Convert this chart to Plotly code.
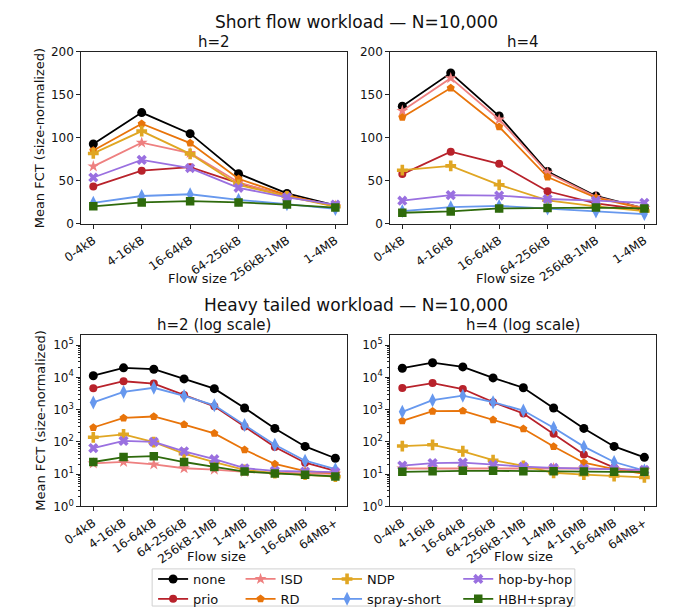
import plotly.graph_objects as go

# ---- categories ----
short_bins = ["0-4kB", "4-16kB", "16-64kB", "64-256kB", "256kB-1MB", "1-4MB"]
heavy_bins = ["0-4kB", "4-16kB", "16-64kB", "64-256kB", "256kB-1MB", "1-4MB",
              "4-16MB", "16-64MB", "64MB+"]

schemes = ["none", "prio", "ISD", "RD", "NDP", "spray-short", "hop-by-hop", "HBH+spray"]

# ---- short flow workload, mean FCT (size-normalized) ----
short_h2_none = [93, 129.5, 105, 58.5, 35.5, 21.5]
short_h2_prio = [43.5, 62, 66, 47.5, 33, 21]
short_h2_isd = [67, 94.5, 82.5, 48.5, 32, 21]
short_h2_rd = [85.5, 116.5, 94, 52.5, 33.5, 20.5]
short_h2_ndp = [82, 108, 81.5, 45.5, 32, 20]
short_h2_spray = [24.5, 32.5, 34.5, 28, 23, 17.5]
short_h2_hbh = [54, 74.5, 65, 42, 31, 22.5]
short_h2_hbhspray = [20.5, 25, 26.5, 25, 22.5, 19]

short_h4_none = [137, 175.5, 125.5, 61, 32.5, 18]
short_h4_prio = [58, 84, 70, 38, 24, 16.5]
short_h4_isd = [131.5, 169.5, 121.5, 59.5, 31.5, 18.5]
short_h4_rd = [124, 158, 113, 54.5, 30.5, 17.5]
short_h4_ndp = [62.5, 67.5, 45.5, 27.5, 20.5, 15]
short_h4_spray = [15, 19.5, 21, 18, 14.5, 11.5]
short_h4_hbh = [27, 33.5, 33, 29, 27, 24.5]
short_h4_hbhspray = [13, 14.5, 18, 18.5, 19, 18]

# ---- heavy tailed workload, mean FCT (size-normalized) ----
heavy_h2_none = [11200, 19600, 17800, 8900, 4450, 1120, 260, 72, 31]
heavy_h2_prio = [4550, 7550, 6400, 2840, 1260, 297, 69, 22.5, 12.5]
heavy_h2_isd = [21.5, 24, 20, 15.2, 13.8, 11.7, 11, 10.7, 10.2]
heavy_h2_rd = [278, 550, 610, 344, 183, 57, 20.6, 12.3, 10.7]
heavy_h2_ndp = [138, 170, 98, 43, 23.7, 13.5, 10.7, 9.6, 8.3]
heavy_h2_spray = [1670, 3520, 4740, 2650, 1350, 335, 81, 26, 14.2]
heavy_h2_hbh = [64, 107, 100, 51, 29, 15.2, 12.6, 12, 11.5]
heavy_h2_hbhspray = [23.7, 33.6, 36, 23.7, 16.7, 12, 10.5, 9.6, 8.5]

heavy_h4_none = [19100, 28300, 21000, 9550, 4750, 1120, 260, 72, 33]
heavy_h4_prio = [4650, 6600, 4330, 1700, 755, 178, 40.5, 15.9, 10.7]
heavy_h4_isd = [14.9, 14.9, 15.6, 15.2, 15.6, 15.2, 14.9, 14.2, 13.2]
heavy_h4_rd = [445, 890, 910, 485, 253, 72, 22.6, 14.2, 10.2]
heavy_h4_ndp = [74, 81, 51, 27, 17.9, 11, 9.6, 8.7, 7.9]
heavy_h4_spray = [850, 1960, 2700, 1700, 930, 272, 71, 23.7, 12.9]
heavy_h4_hbh = [18.3, 22, 22.6, 19.2, 17.1, 15.6, 14.9, 14.2, 13.5]
heavy_h4_hbhspray = [11.8, 12.3, 12.6, 12.6, 12.3, 12.3, 12, 11.8, 11.8]

panels = [
    ("x", "y", short_bins, [short_h2_none, short_h2_prio, short_h2_isd, short_h2_rd,
                            short_h2_ndp, short_h2_spray, short_h2_hbh, short_h2_hbhspray]),
    ("x2", "y2", short_bins, [short_h4_none, short_h4_prio, short_h4_isd, short_h4_rd,
                              short_h4_ndp, short_h4_spray, short_h4_hbh, short_h4_hbhspray]),
    ("x3", "y3", heavy_bins, [heavy_h2_none, heavy_h2_prio, heavy_h2_isd, heavy_h2_rd,
                              heavy_h2_ndp, heavy_h2_spray, heavy_h2_hbh, heavy_h2_hbhspray]),
    ("x4", "y4", heavy_bins, [heavy_h4_none, heavy_h4_prio, heavy_h4_isd, heavy_h4_rd,
                              heavy_h4_ndp, heavy_h4_spray, heavy_h4_hbh, heavy_h4_hbhspray]),
]

# ---- styles ----
colors = {
    "none": "#000000", "prio": "#b8222b", "ISD": "#ee8080", "RD": "#e8740a",
    "NDP": "#e0a623", "spray-short": "#6798ee", "hop-by-hop": "#9a70e0",
    "HBH+spray": "#2e6a0c",
}
symbols = {
    "none": "circle", "prio": "circle", "ISD": "star", "RD": "pentagon",
    "NDP": "cross", "spray-short": "diamond-tall", "hop-by-hop": "x",
    "HBH+spray": "square",
}
sizes = {
    "none": 9, "prio": 8, "ISD": 9, "RD": 8.5, "NDP": 9,
    "spray-short": 10, "hop-by-hop": 9, "HBH+spray": 8.5,
}
legend_of = {
    "none": "legend", "prio": "legend", "ISD": "legend2", "RD": "legend2",
    "NDP": "legend3", "spray-short": "legend3", "hop-by-hop": "legend4",
    "HBH+spray": "legend4",
}

W, H = 673, 615

def px(x):
    return x / W

def py(y):
    return 1 - y / H

fig = go.Figure()
for i, (xa, ya, cats, series) in enumerate(panels):
    for name, vals in zip(schemes, series):
        fig.add_trace(go.Scatter(
            x=cats, y=vals, xaxis=xa, yaxis=ya, name=name,
            mode="lines+markers",
            line=dict(color=colors[name], width=1.8),
            marker=dict(symbol=symbols[name], size=sizes[name], color=colors[name],
                        line=dict(width=0)),
            legend=legend_of[name], showlegend=(i == 0),
        ))

font = "DejaVu Sans, Verdana, sans-serif"
dom_left = [px(64), px(338)]
dom_right = [px(382), px(656)]
dom_top = [py(222), py(46)]
dom_bot = [py(511), py(336)]

axis_common = dict(showline=True, mirror=True, linecolor="#222", linewidth=1,
                   ticks="outside", ticklen=4, tickcolor="#222", showgrid=False,
                   zeroline=False, tickfont=dict(size=12, color="#111", family=font))

xtop = dict(axis_common, type="category", range=[-0.25, 5.25], tickangle=-35)
xbot = dict(axis_common, type="category", range=[-0.4, 8.4], tickangle=-35)
ylin = dict(axis_common, range=[0, 200], tickvals=[0, 50, 100, 150, 200])
log_ticks = [1, 10, 100, 1000, 10000, 100000]
log_text = ["10<sup>%d</sup>" % k for k in range(6)]
minor_vals = [m * 10 ** e for e in range(0, 6) for m in range(2, 10) if m * 10 ** e < 2e5]
ylog = dict(axis_common, type="log", range=[0, 5.3], tickvals=log_ticks, ticktext=log_text,
            minor=dict(ticks="outside", ticklen=2, tickcolor="#222", tickvals=minor_vals))

fig.update_layout(
    width=W, height=H, margin=dict(l=0, r=0, t=0, b=0),
    paper_bgcolor="white", plot_bgcolor="white",
    font=dict(family=font, color="#111"),
    xaxis=dict(xtop, domain=dom_left, anchor="y"),
    yaxis=dict(ylin, domain=dom_top, anchor="x"),
    xaxis2=dict(xtop, domain=dom_right, anchor="y2"),
    yaxis2=dict(ylin, domain=dom_top, anchor="x2"),
    xaxis3=dict(xbot, domain=dom_left, anchor="y3"),
    yaxis3=dict(ylog, domain=dom_bot, anchor="x3"),
    xaxis4=dict(xbot, domain=dom_right, anchor="y4"),
    yaxis4=dict(ylog, domain=dom_bot, anchor="x4"),
)

# four two-row legend columns inside one framed box
leg_common = dict(orientation="v", yanchor="top", y=py(570), xanchor="left",
                  bgcolor="rgba(0,0,0,0)", font=dict(size=13, family=font, color="#111"),
                  tracegroupgap=0, itemwidth=30)
fig.update_layout(
    legend=dict(leg_common, x=px(138)),
    legend2=dict(leg_common, x=px(228)),
    legend3=dict(leg_common, x=px(317)),
    legend4=dict(leg_common, x=px(452)),
)
fig.add_shape(type="rect", xref="paper", yref="paper",
              x0=px(137), x1=px(572), y0=py(613), y1=py(575),
              line=dict(color="#d0d0d0", width=1), fillcolor="rgba(0,0,0,0)")

def label(text, x, y, size, angle=0):
    fig.add_annotation(text=text, x=px(x), y=py(y), xref="paper", yref="paper",
                       showarrow=False, textangle=angle, xanchor="center", yanchor="middle",
                       font=dict(size=size, family=font, color="#111"))

label("Short flow workload — N=10,000", 347, 15.5, 17)
label("Heavy tailed workload — N=10,000", 347, 305, 17)
label("h=2", 201, 36, 15)
label("h=4", 519, 36, 15)
label("h=2 (log scale)", 201, 325, 15)
label("h=4 (log scale)", 519, 325, 15)
label("Mean FCT (size-normalized)", 22, 134, 13, -90)
label("Mean FCT (size-normalized)", 22, 423, 13, -90)
label("Flow size", 184, 278, 13)
label("Flow size", 501, 278, 13)
label("Flow size", 203, 562, 13)
label("Flow size", 519, 562, 13)

fig.write_html("out.html", post_script="document.body.style.margin='0';")
